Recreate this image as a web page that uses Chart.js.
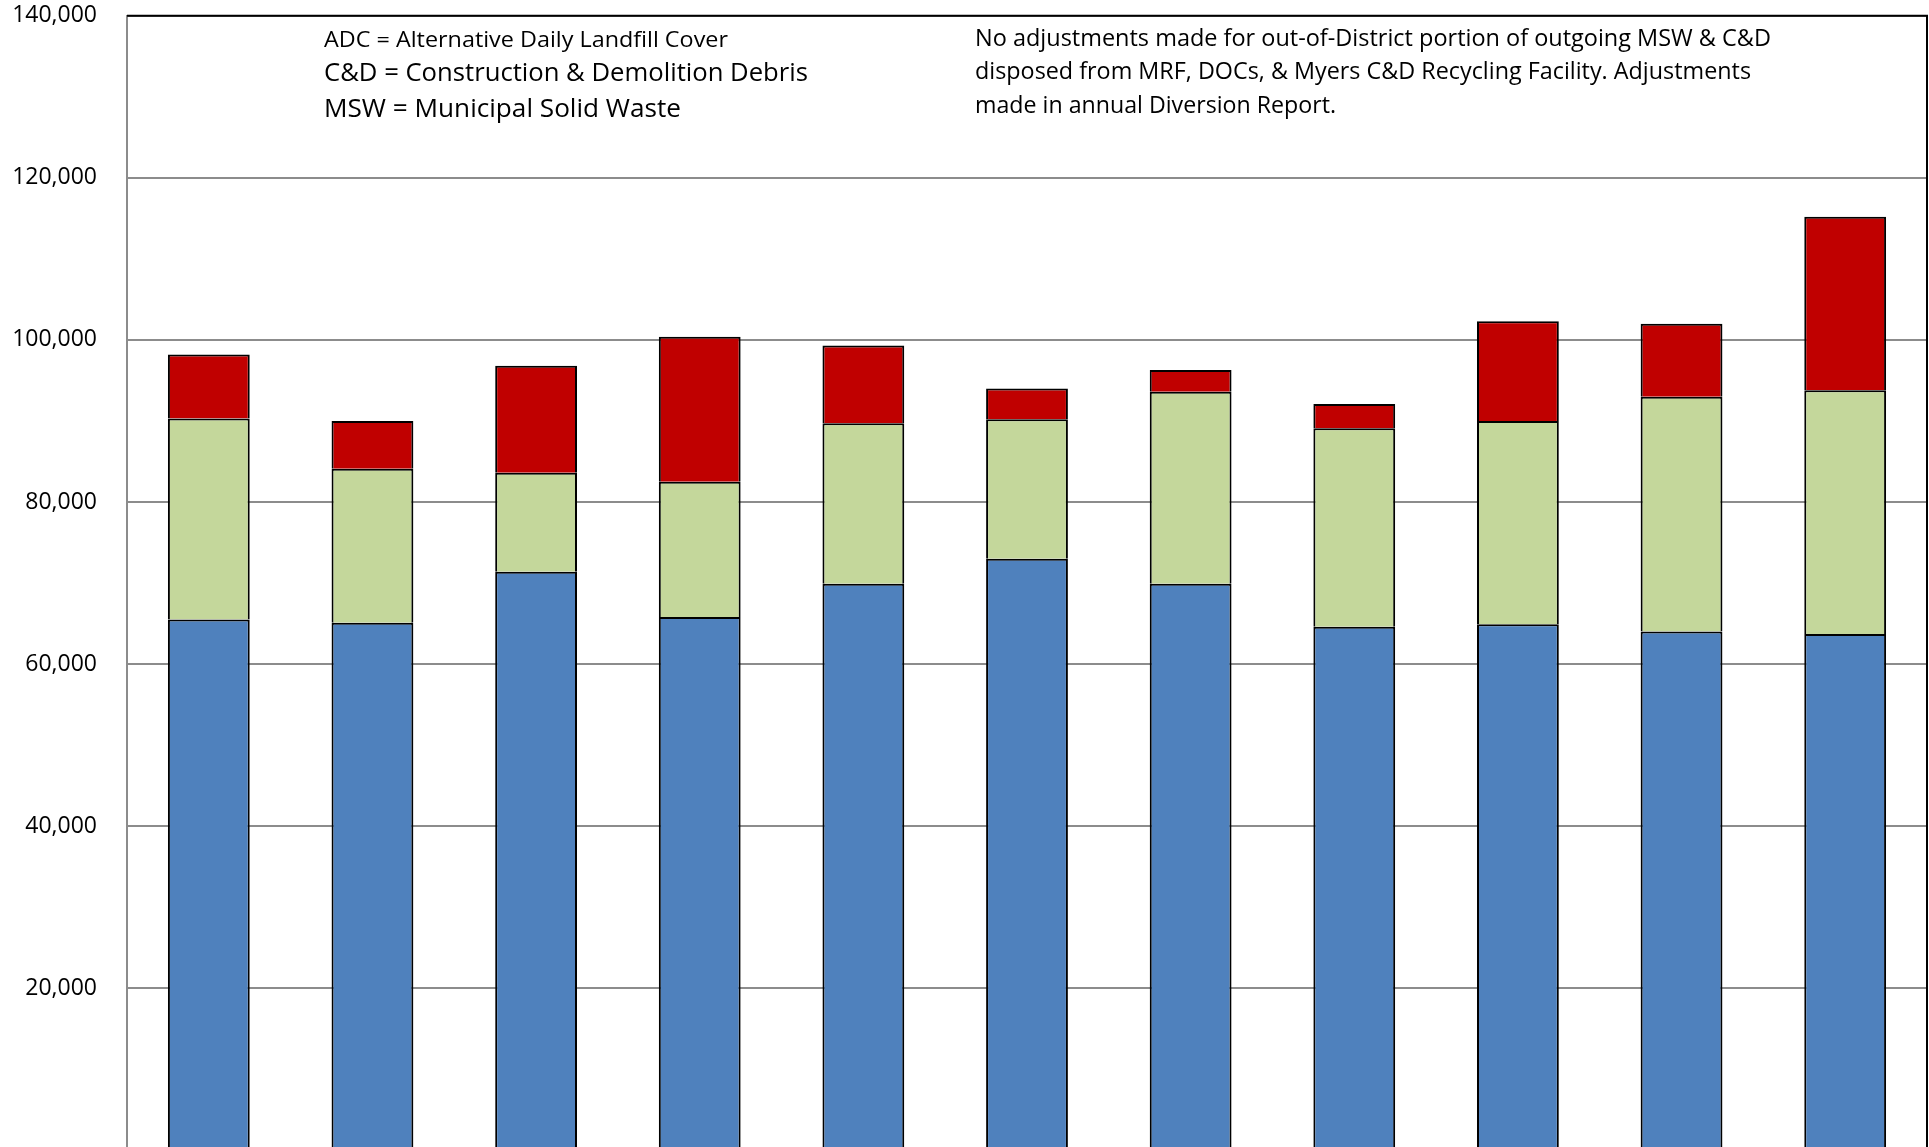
<!DOCTYPE html>
<html>
<head>
<meta charset="utf-8">
<script src="https://cdn.jsdelivr.net/npm/chart.js@4"></script>
<style>
  html, body { margin: 0; padding: 0; background: #fff; overflow: hidden; width: 1929px; height: 1147px; }
  #wrap { position: absolute; left: 0; top: -28px; width: 1929px; height: 1222px; }
  .note { position: absolute; font-family: "Open Sans", sans-serif; color: #000; white-space: nowrap; line-height: 1; transform-origin: 0 50%; z-index: 2; }
</style>
</head>
<body>
<div id="wrap"><canvas id="c"></canvas></div>
<div class="note" id="n1" style="left:324px; top:27px; font-size:22px;" data-w="404">ADC = Alternative Daily Landfill Cover</div>
<div class="note" id="n2" style="left:324px; top:59px; font-size:25px;" data-w="484">C&amp;D = Construction &amp; Demolition Debris</div>
<div class="note" id="n3" style="left:324px; top:95px; font-size:25px;" data-w="357">MSW = Municipal Solid Waste</div>
<div class="note" id="r1" style="left:975px; top:26px; font-size:23px;" data-w="796">No adjustments made for out-of-District portion of outgoing MSW &amp; C&amp;D</div>
<div class="note" id="r2" style="left:975px; top:59px; font-size:23px;" data-w="776">disposed from MRF, DOCs, &amp; Myers C&amp;D Recycling Facility. Adjustments</div>
<div class="note" id="r3" style="left:975px; top:93px; font-size:23px;" data-w="361">made in annual Diversion Report.</div>
<script>
// ---- data ----
const categories = ["2010", "2011", "2012", "2013", "2014", "2015", "2016", "2017", "2018", "2019", "2020"];
const mswValues = [65500, 65100, 71400, 65800, 69900, 73000, 69900, 64600, 64900, 64000, 63700];
const cdValues  = [24800, 19000, 12200, 16700, 19800, 17200, 23700, 24500, 25100, 29000, 30100];
const adcValues = [7900, 5900, 13200, 17900, 9600, 3800, 2700, 3000, 12300, 9000, 21400];
const yTicks = [0, 20000, 40000, 60000, 80000, 100000, 120000, 140000];

// fit annotation text widths
document.querySelectorAll('.note').forEach(el => {
  const target = parseFloat(el.dataset.w);
  const w = el.getBoundingClientRect().width;
  if (w > 0) el.style.transform = 'scaleX(' + (target / w).toFixed(4) + ')';
});

const framePlugin = {
  id: 'frame',
  afterDraw(chart) {
    const { ctx, chartArea: a } = chart;
    ctx.save();
    ctx.strokeStyle = '#000';
    ctx.lineWidth = 2;
    ctx.beginPath();
    ctx.moveTo(a.left, a.top);
    ctx.lineTo(a.right, a.top);
    ctx.lineTo(a.right, a.bottom);
    ctx.stroke();
    ctx.restore();
  }
};

new Chart(document.getElementById('c'), {
  type: 'bar',
  data: {
    labels: categories,
    datasets: [
      { label: 'MSW', data: mswValues, backgroundColor: '#4F81BD', borderColor: '#000', borderWidth: 2 },
      { label: 'C&D', data: cdValues, backgroundColor: '#C4D79B', borderColor: '#000', borderWidth: 2 },
      { label: 'ADC', data: adcValues, backgroundColor: '#C00000', borderColor: '#000', borderWidth: 2 }
    ]
  },
  options: {
    responsive: true,
    maintainAspectRatio: false,
    animation: false,
    layout: { padding: { top: 15, right: 2, bottom: 1, left: 0 } },
    datasets: { bar: { barPercentage: 0.5, categoryPercentage: 1.0 } },
    plugins: { legend: { display: false }, tooltip: { enabled: false } },
    scales: {
      x: { stacked: true, display: false },
      y: {
        stacked: true,
        min: 0,
        max: 140000,
        afterBuildTicks(scale) { scale.ticks = yTicks.map(v => ({ value: v })); },
        afterFit(scale) { scale.width = 127; },
        grid: { color: '#8c8c8c', lineWidth: 2, drawTicks: false },
        border: { display: true, color: '#8c8c8c', width: 2 },
        ticks: {
          padding: 30,
          color: '#000',
          font: { family: 'Open Sans', size: 23 },
          callback: v => v === 0 ? '' : v.toLocaleString('en-US')
        }
      }
    }
  },
  plugins: [framePlugin]
});
</script>
</body>
</html>
